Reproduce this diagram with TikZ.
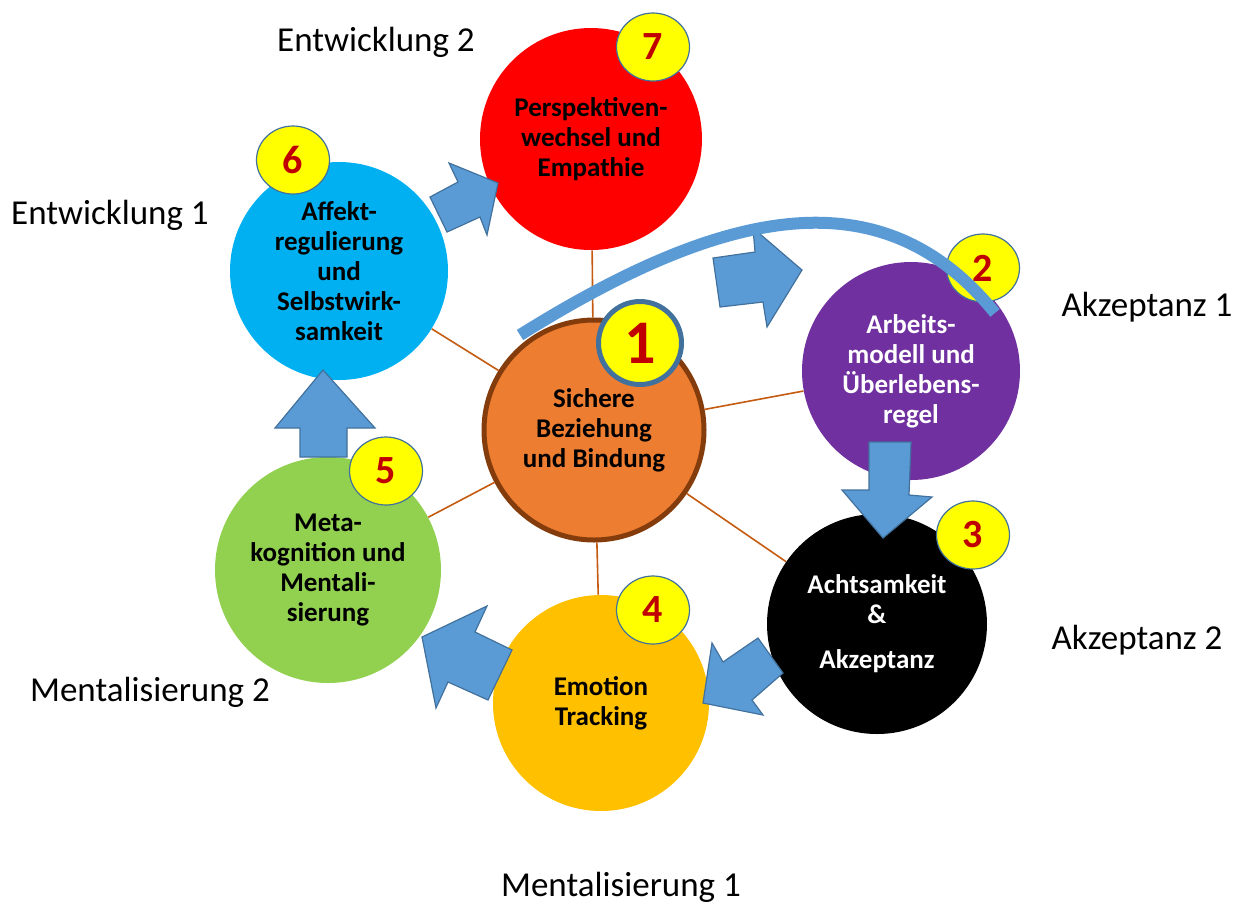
\documentclass[tikz,border=0pt]{standalone}
\usepackage{fontspec}
\setmainfont{Carlito}
\usetikzlibrary{shapes.geometric}

\definecolor{cred}{HTML}{FF0000}
\definecolor{cblue}{HTML}{00B0F0}
\definecolor{corange}{HTML}{ED7D31}
\definecolor{cbrown}{HTML}{843C0C}
\definecolor{cpurple}{HTML}{7030A0}
\definecolor{cyellow}{HTML}{FFC000}
\definecolor{cgreen}{HTML}{92D050}
\definecolor{badgeyellow}{HTML}{FFFF00}
\definecolor{badgeline}{HTML}{41719C}
\definecolor{digitred}{HTML}{C00000}
\definecolor{arrowblue}{HTML}{5B9BD5}
\definecolor{arrowline}{HTML}{41719C}
\definecolor{linkbrown}{HTML}{C55A11}

\begin{document}
\begin{tikzpicture}[x=0.5pt,y=-0.5pt,
  bubble/.style={circle, inner sep=0pt, align=center,
    font=\fontsize{13.5}{15}\selectfont\bfseries},
  badge/.style={ellipse, draw=badgeline, line width=0.6pt, fill=badgeyellow,
    minimum width=36.5pt, minimum height=34pt, inner sep=0pt, text=digitred,
    font=\fontsize{20}{24}\selectfont\bfseries},
  outlabel/.style={anchor=base, inner sep=0pt, font=\fontsize{17.5}{21}\selectfont},
  link/.style={draw=linkbrown, line width=0.8pt},
  blockarrow/.style={fill=arrowblue, draw=arrowline, line width=0.6pt, line join=miter},
  arcband/.style={draw=arrowblue, line width=6pt, line cap=butt}]

\useasboundingbox (0,0) rectangle (1243,902);

% outer labels
\node[outlabel] (lentw2) at (376,51) {Entwicklung 2};
\node[outlabel] (lentw1) at (110,224) {Entwicklung 1};
\node[outlabel] (lakz1) at (1147,316) {Akzeptanz 1};
\node[outlabel] (lakz2) at (1137,649) {Akzeptanz 2};
\node[outlabel] (lment2) at (150,701) {Mentalisierung 2};
\node[outlabel] (lment1) at (621,896) {Mentalisierung 1};

% topic circles
\node[bubble, fill=cred, minimum size=111pt] (persp) at (591,139)
  {Perspektiven-\\wechsel und\\Empathie};
\node[bubble, fill=cblue, minimum size=109pt] (affekt) at (339,271)
  {Affekt-\\regulierung\\und\\Selbstwirk-\\samkeit};
\node[bubble, fill=corange, draw=cbrown, line width=2.5pt, minimum size=110pt] (bindung) at (594,430)
  {Sichere\\Beziehung\\und Bindung};
\node[bubble, fill=cpurple, text=white, minimum size=109pt] (arbeit) at (911,371)
  {Arbeits-\\modell und\\Überlebens-\\regel};
\node[bubble, fill=black, text=white, minimum size=110pt] (acht) at (877,624)
  {Achtsamkeit\\\&\\[7.5pt]Akzeptanz};
\node[bubble, fill=cyellow, minimum size=108pt] (emotion) at (601,703)
  {Emotion\\Tracking};
\node[bubble, fill=cgreen, minimum size=113pt] (meta) at (328,570)
  {Meta-\\kognition und\\Mentali-\\sierung};

% spokes from the centre
\draw[link] (bindung) -- (persp);
\draw[link] (bindung) -- (affekt);
\draw[link] (bindung) -- (arbeit);
\draw[link] (bindung) -- (acht);
\draw[link] (bindung) -- (emotion);
\draw[link] (bindung) -- (meta);

% block arrows
\path[blockarrow] (430,197) -- (458,182) -- (449,163) -- (498,183) -- (487,235) -- (480,217) -- (447,232) -- cycle;
\path[blockarrow] (713,258) -- (755,252) -- (753,228) -- (802,270) -- (767,327) -- (763,302) -- (720,307) -- cycle;
\path[blockarrow] (869,442) -- (911,442) -- (909,495) -- (932,497) -- (883,538) -- (842,490) -- (869,490) -- cycle;
\path[blockarrow] (758,638) -- (723,662) -- (712,643) -- (703,703) -- (763,715) -- (752,700) -- (783,673) -- cycle;
\path[blockarrow] (512,650) -- (475,632) -- (487,606) -- (422,637) -- (436,708) -- (448,682) -- (488,700) -- cycle;
\path[blockarrow] (300,457) -- (347,457) -- (347,428) -- (375,428) -- (323,370) -- (275,428) -- (300,428) -- cycle;

% number badges
\node[badge] (b7) at (653,47) {7};
\node[badge] (b6) at (293,160) {6};
\node[badge, line width=2.5pt, minimum width=41.5pt, minimum height=41.5pt,
  font=\fontsize{31}{36}\selectfont\bfseries] (b1) at (640,343) {1};
\node[badge] (b2) at (983,268) {2};
\node[badge] (b3) at (973,535) {3};
\node[badge] (b4) at (653,610) {4};
\node[badge] (b5) at (386,471) {5};

% sweeping band over the top right
\coordinate (arcstart) at (520,335);
\coordinate (arcend) at (995,313);
\draw[arcband] (arcstart) .. controls (723.5,207.8) and (881.6,173.1) .. (arcend);

\end{tikzpicture}
\end{document}
